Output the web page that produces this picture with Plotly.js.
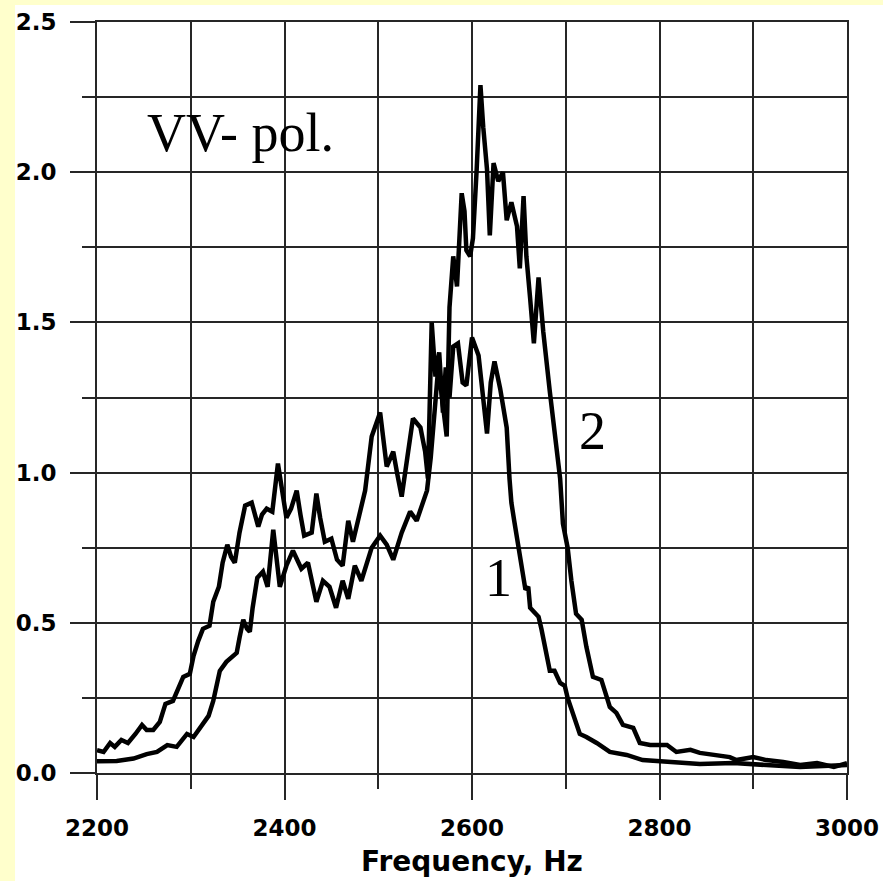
<!DOCTYPE html>
<html>
<head>
<meta charset="utf-8">
<script src="https://cdn.plot.ly/plotly-3.0.1.min.js"></script>
<style>
  html, body { margin: 0; padding: 0; background: #ffffff; }
  #chart { width: 883px; height: 881px; }
</style>
</head>
<body>
<div id="chart"></div>
<script>
// Curve 1 (narrower peak)
const freq1 = [2200,2207,2214,2219,2226,2233,2241,2248,2253,2260,2267,2273,2281,2289,2292,2299,2303,2308,2313,2320,2324,2330,2334,2339,2343,2347,2352,2358,2365,2372,2376,2381,2387,2393,2397,2402,2407,2413,2417,2421,2429,2434,2438,2443,2450,2456,2462,2468,2473,2481,2486,2493,2502,2509,2516,2520,2525,2531,2537,2545,2550,2553,2557,2561,2565,2569,2572,2576,2580,2585,2590,2594,2600,2607,2612,2616,2620,2624,2630,2637,2640,2642,2645,2649,2657,2660,2662,2671,2674,2683,2688,2694,2699,2702,2706,2715,2722,2733,2747,2765,2782,2808,2843,2879,2914,2950,3000];
const amp1 = [0.076,0.070,0.100,0.087,0.110,0.100,0.130,0.160,0.143,0.143,0.170,0.230,0.240,0.300,0.320,0.330,0.390,0.440,0.480,0.490,0.570,0.620,0.700,0.760,0.720,0.700,0.800,0.890,0.900,0.820,0.860,0.880,0.870,1.030,0.950,0.850,0.880,0.940,0.860,0.790,0.800,0.930,0.850,0.770,0.780,0.710,0.690,0.840,0.770,0.870,0.940,1.120,1.200,1.020,1.070,1.000,0.920,1.050,1.180,1.150,1.070,0.980,1.500,1.320,1.400,1.200,1.350,1.250,1.420,1.430,1.300,1.290,1.450,1.390,1.250,1.130,1.300,1.370,1.280,1.150,0.980,0.900,0.840,0.770,0.610,0.620,0.550,0.520,0.480,0.340,0.340,0.300,0.290,0.250,0.210,0.130,0.120,0.100,0.070,0.060,0.043,0.036,0.030,0.033,0.027,0.020,0.027];

// Curve 2 (tall peak)
const freq2 = [2200,2221,2239,2253,2264,2275,2285,2296,2303,2310,2319,2324,2331,2338,2349,2352,2356,2360,2363,2366,2371,2377,2382,2388,2395,2402,2409,2418,2425,2434,2441,2448,2455,2462,2468,2475,2482,2493,2502,2509,2516,2525,2534,2541,2548,2552,2556,2560,2564,2568,2573,2576,2580,2584,2589,2592,2594,2598,2601,2605,2609,2612,2616,2619,2623,2628,2633,2637,2642,2648,2651,2655,2658,2662,2666,2671,2676,2683,2690,2694,2697,2702,2706,2711,2717,2722,2729,2738,2744,2747,2754,2761,2772,2779,2790,2808,2818,2833,2843,2861,2875,2882,2900,2914,2932,2950,2968,2986,3000];
const amp2 = [0.039,0.040,0.048,0.063,0.070,0.093,0.087,0.130,0.120,0.153,0.190,0.240,0.340,0.370,0.400,0.450,0.510,0.480,0.470,0.550,0.650,0.670,0.620,0.810,0.620,0.690,0.740,0.680,0.700,0.570,0.640,0.620,0.550,0.640,0.580,0.690,0.640,0.750,0.790,0.760,0.710,0.800,0.870,0.840,0.900,0.940,1.050,1.200,1.350,1.250,1.120,1.550,1.720,1.620,1.930,1.870,1.740,1.720,1.780,2.010,2.290,2.150,2.010,1.790,2.030,1.970,2.000,1.840,1.900,1.820,1.680,1.920,1.720,1.580,1.430,1.650,1.470,1.270,1.090,0.980,0.830,0.750,0.640,0.530,0.510,0.420,0.320,0.310,0.250,0.220,0.200,0.160,0.150,0.100,0.093,0.093,0.070,0.077,0.067,0.060,0.053,0.043,0.053,0.043,0.037,0.027,0.033,0.020,0.033];

const xRange = [2200, 3000];
const yRange = [0, 2.5];
const annoTexts = ["VV- pol.", "2", "1"];
const annoX = [2353, 2729, 2628];
const annoY = [2.13, 1.14, 0.65];

const gridCol = '#262626';
const traces = [
  { x: freq1, y: amp1, type: 'scatter', mode: 'lines', name: '1',
    line: { color: '#000000', width: 4.5 } },
  { x: freq2, y: amp2, type: 'scatter', mode: 'lines', name: '2',
    line: { color: '#000000', width: 4.5 } }
];

const tickFont = { family: 'DejaVu Sans, Verdana, sans-serif', size: 23, weight: 'bold', color: '#000' };

const layout = {
  width: 883, height: 881,
  margin: { l: 97, r: 36, t: 22, b: 108 },
  paper_bgcolor: '#ffffff',
  plot_bgcolor: '#ffffff',
  showlegend: false,
  xaxis: {
    range: xRange, tick0: 2200, dtick: 200, tickmode: 'linear',
    ticks: 'outside', ticklen: 25, tickwidth: 2, tickcolor: gridCol,
    showgrid: true, gridcolor: gridCol, gridwidth: 2,
    showline: true, mirror: true, linecolor: gridCol, linewidth: 2,
    zeroline: false, tickfont: tickFont, automargin: false, ticklabelstandoff: 8,
    minor: { tick0: 2200, dtick: 100, ticks: 'outside', ticklen: 14, tickwidth: 2, tickcolor: gridCol,
             showgrid: true, gridcolor: gridCol, gridwidth: 2 },
    title: { text: 'Frequency, Hz', font: { family: 'DejaVu Sans, Verdana, sans-serif', size: 28, weight: 'bold', color: '#000' }, standoff: 12 }
  },
  yaxis: {
    range: yRange, tick0: 0, dtick: 0.5, tickmode: 'linear', tickformat: '.1f',
    ticks: 'outside', ticklen: 25, tickwidth: 2, tickcolor: gridCol,
    showgrid: true, gridcolor: gridCol, gridwidth: 2,
    showline: true, mirror: true, linecolor: gridCol, linewidth: 2,
    zeroline: false, tickfont: tickFont, automargin: false, ticklabelstandoff: 9,
    minor: { tick0: 0, dtick: 0.25, ticks: 'outside', ticklen: 13, tickwidth: 2, tickcolor: gridCol,
             showgrid: true, gridcolor: gridCol, gridwidth: 2 }
  },
  shapes: [
    { type: 'rect', xref: 'paper', yref: 'paper', layer: 'below',
      x0: -0.1294, x1: -0.1093, y0: -0.2, y1: 1.1, fillcolor: '#FFFFCC', line: { width: 0 } },
    { type: 'rect', xref: 'paper', yref: 'paper', layer: 'below',
      x0: -0.1294, x1: 1.06, y0: 1.0226, y1: 1.05, fillcolor: '#FFFFCC', line: { width: 0 } }
  ],
  annotations: annoTexts.map((t, i) => ({
    text: t, x: annoX[i], y: annoY[i], xref: 'x', yref: 'y', showarrow: false,
    xanchor: 'center', yanchor: 'middle',
    font: { family: 'Liberation Serif, Times New Roman, serif', size: 54, color: '#000' }
  }))
};

Plotly.newPlot('chart', traces, layout, { displayModeBar: false, staticPlot: true });
</script>
</body>
</html>
